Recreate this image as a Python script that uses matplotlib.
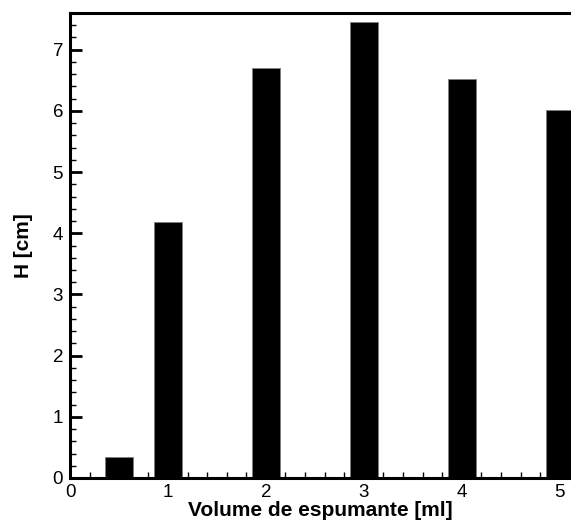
import matplotlib
matplotlib.use("Agg")
import matplotlib.pyplot as plt
from matplotlib.ticker import MultipleLocator

volume = [0.5, 1, 2, 3, 4, 5]
height = [0.35, 4.18, 6.70, 7.45, 6.52, 6.02]
x_ticks = [0, 1, 2, 3, 4, 5]
y_ticks = [0, 1, 2, 3, 4, 5, 6, 7]

plt.rcParams['font.family'] = ['Liberation Sans', 'DejaVu Sans']

fig = plt.figure(figsize=(5.71, 5.23), dpi=100)
ax = fig.add_axes([70/571, 45/523, 1 - 70/571, (478-13)/523])

ax.bar(volume, height, width=0.28, color='black', edgecolor='#808080', linewidth=0.6, zorder=3)

ax.set_xlim(0, 5.115)
ax.set_ylim(0, 7.6)
ax.set_xticks(x_ticks)
ax.set_yticks(y_ticks)
ax.xaxis.set_minor_locator(MultipleLocator(0.2))
ax.yaxis.set_minor_locator(MultipleLocator(0.2))

for s in ['left', 'top', 'bottom']:
    ax.spines[s].set_linewidth(2.2)
    ax.spines[s].set_zorder(4)
ax.spines['right'].set_visible(False)

ax.tick_params(which='major', direction='in', length=8.5, width=2.0, labelsize=13.5, top=False, right=False)
ax.tick_params(which='minor', direction='in', length=4.5, width=1.0, top=False, right=False)
ax.tick_params(axis='x', which='major', pad=4)
ax.tick_params(axis='y', which='major', pad=5)

ax.set_xlabel('Volume de espumante [ml]', fontsize=15, fontweight='bold', labelpad=0)
ax.set_ylabel('H [cm]', fontsize=15, fontweight='bold', labelpad=14)

fig.savefig('out.png', dpi=100)
